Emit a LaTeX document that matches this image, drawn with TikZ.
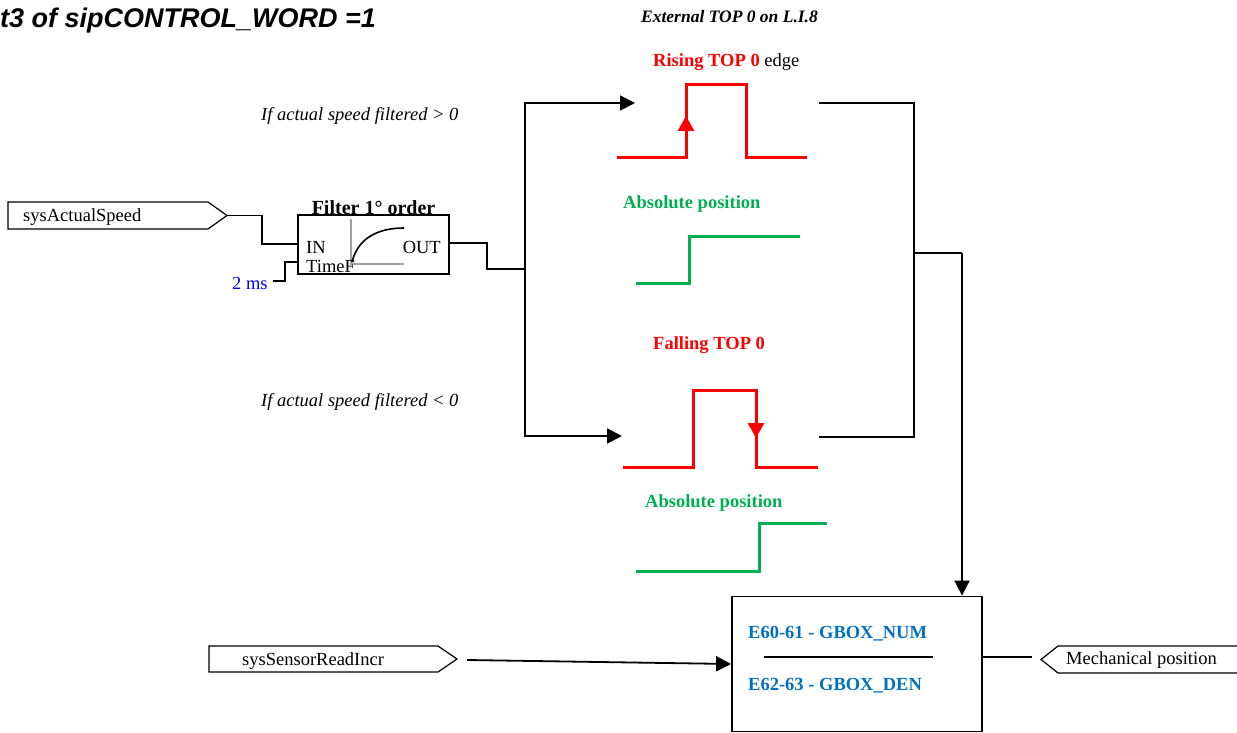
\documentclass[tikz,border=0pt]{standalone}
\usepackage{fontspec}
\setmainfont{Liberation Serif}
\newfontfamily\titlefont{Liberation Sans}
\usetikzlibrary{arrows.meta}
\definecolor{sigred}{RGB}{255,0,0}
\definecolor{siggreen}{RGB}{0,176,80}
\definecolor{parblue}{RGB}{0,112,192}
\definecolor{msblue}{RGB}{0,0,255}
\definecolor{axisgray}{RGB}{160,160,160}

\begin{document}
\begin{tikzpicture}[x=1pt,y=-1pt,
  txt/.style={font=\fontsize{18.5}{22}\selectfont, inner sep=0pt},
  wire/.style={line width=1.8pt, black},
  thinwire/.style={line width=1.4pt, black},
  tagline/.style={line width=1.2pt, black},
  redsig/.style={line width=3pt, sigred},
  greensig/.style={line width=3pt, siggreen},
  tip/.style={-{Triangle[length=15pt,width=15pt]}},
  redtip/.style={-{Triangle[length=15pt,width=16pt]}},
]
\useasboundingbox (0,0) rectangle (1237,733);

% headings
\node[anchor=base west, inner sep=0pt, font=\titlefont\bfseries\itshape\fontsize{27}{31}\selectfont] (title) at (0,28) {t3 of sipCONTROL\_WORD =1};
\node[txt, anchor=base, font=\fontsize{17.5}{20}\selectfont\bfseries\itshape] (ext) at (729.5,23) {External TOP 0 on L.I.8};

% input tag: actual speed
\draw[tagline] (8,202) -- (208,202) -- (227,215.5) -- (208,229) -- (8,229) -- cycle;
\node[txt, anchor=base west] (sas) at (23,221) {sysActualSpeed};
\coordinate (sasout) at (227,215.5);

% first order filter block
\node[draw, line width=1.8pt, minimum width=151pt, minimum height=59pt, inner sep=0pt] (filter) at (373.5,244.5) {};
\node[txt, anchor=base, font=\fontsize{20}{24}\selectfont\bfseries] (ftitle) at (373.5,214) {Filter 1° order};
\draw[axisgray, line width=1.2pt] (351,219) -- (351,264) -- (404,264);
\draw[black, line width=1.6pt] (352,262) .. controls (358,238) and (378,228) .. (404,228);
\node[txt, anchor=base west] (fin) at (306,253) {IN};
\node[txt, anchor=base east] (fout) at (441,253) {OUT};
\node[txt, anchor=base west] (ftime) at (306,272) {TimeF};
\node[txt, anchor=base west, text=msblue] (ms) at (232,289) {2 ms};
\coordinate (msout) at (273,281);

\draw[wire] (sasout) -- (262,215.5) -- (262,244) -- (filter.west |- 0,244);
\draw[wire] (msout) -- (285,281) -- (285,262) -- (filter.west |- 0,262);

% branch on the filtered speed sign
\coordinate (br) at (525,269);
\coordinate (upin) at (635,103);
\coordinate (dnin) at (622,436);
\draw[wire] (filter.east |- 0,243) -- (487,243) -- (487,269) -- (br);
\draw[wire, tip] (br) |- (upin);
\draw[wire, tip] (br) |- (dnin);

\node[txt, anchor=base west, font=\fontsize{18.5}{22}\selectfont\itshape] (lblpos) at (261,121) {If actual speed filtered > 0};
\node[txt, anchor=base west, font=\fontsize{18.5}{22}\selectfont\itshape] (lblneg) at (261,406) {If actual speed filtered < 0};

% rising edge case
\node[txt, anchor=base west] (rising) at (653,67) {\textcolor{sigred}{\bfseries Rising TOP 0} edge};
\draw[redsig] (617,158) -- (686,158) -- (686,85) -- (746,85) -- (746,158) -- (807,158);
\draw[redsig, redtip] (686,150) -- (686,116);
\node[txt, anchor=base west, text=siggreen, font=\fontsize{18.5}{22}\selectfont\bfseries] (absup) at (623,208) {Absolute position};
\draw[greensig] (636,283) -- (689,283) -- (689,236) -- (800,236);

% falling edge case
\node[txt, anchor=base west, text=sigred, font=\fontsize{18.5}{22}\selectfont\bfseries] (falling) at (653,349) {Falling TOP 0};
\draw[redsig] (623,467) -- (693,467) -- (693,390) -- (756,390) -- (756,467) -- (818,467);
\draw[redsig, redtip] (756,395) -- (756,438);
\node[txt, anchor=base west, text=siggreen, font=\fontsize{18.5}{22}\selectfont\bfseries] (absdn) at (645,507) {Absolute position};
\draw[greensig] (636,571) -- (759,571) -- (759,523) -- (827,523);

% merge of both cases
\coordinate (upout) at (819,103);
\coordinate (dnout) at (819,437);
\coordinate (mrg) at (914,253);
\draw[thinwire] (upout) -- (914,103) -- (914,437) -- (dnout);
\draw[thinwire] (mrg) -- (962,253);

% gearbox ratio block
\node[draw, line width=1.8pt, minimum width=250pt, minimum height=135pt, inner sep=0pt] (gbox) at (857,664) {};
\draw[wire, tip] (962,253) -- (gbox.north -| 962,0);
\node[txt, anchor=base west, text=parblue, font=\fontsize{18.5}{22}\selectfont\bfseries] (num) at (748,638) {E60-61 - GBOX\_NUM};
\draw[wire] (764,657) -- (933,657);
\node[txt, anchor=base west, text=parblue, font=\fontsize{18.5}{22}\selectfont\bfseries] (den) at (748,690) {E62-63 - GBOX\_DEN};

% sensor increments input tag
\draw[tagline] (209,646) -- (438,646) -- (457,659) -- (438,672) -- (209,672) -- cycle;
\node[txt, anchor=base west] (ssr) at (242,665) {sysSensorReadIncr};
\coordinate (ssrout) at (467,660);
\draw[wire, tip] (ssrout) -- (gbox.west |- 0,664);

% output tag: mechanical position
\draw[tagline] (1240,646) -- (1058,646) -- (1041,659.5) -- (1058,673) -- (1240,673);
\node[txt, anchor=base west] (mech) at (1066,664) {Mechanical position};
\coordinate (mechin) at (1032,657);
\draw[thinwire] (gbox.east |- 0,657) -- (mechin);
\end{tikzpicture}
\end{document}
